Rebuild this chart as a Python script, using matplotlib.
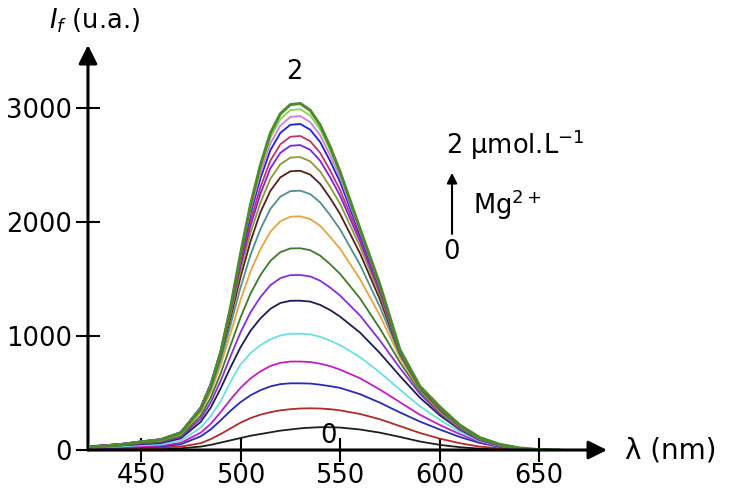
import matplotlib
matplotlib.use('Agg')
import matplotlib.pyplot as plt

wavelength = [425, 440, 450, 460, 470, 480, 485, 490, 495, 500, 505, 510, 515,
              520, 525, 530, 535, 540, 545, 550, 560, 570, 580, 590, 600, 610,
              620, 630, 640, 650, 660]

# fluorescence intensity (u.a.), from [Mg2+] = 0 up to 2 umol/L
i_00 = [5, 5, 5, 8, 15, 30, 45, 65, 85, 105, 125, 140, 155, 170, 180, 190, 196,
        200, 200, 197, 180, 152, 115, 75, 45, 25, 12, 6, 3, 0, 0]
i_01 = [10, 10, 15, 20, 30, 60, 95, 140, 190, 240, 280, 310, 332, 348, 358, 364,
        366, 364, 358, 348, 316, 270, 210, 150, 100, 60, 30, 15, 6, 0, 0]
i_02 = [15, 20, 25, 30, 50, 120, 180, 260, 345, 420, 480, 525, 558, 578, 585, 585,
        583, 573, 560, 545, 490, 415, 330, 250, 180, 115, 62, 28, 11, 2, 0]
i_03 = [19, 25, 32, 38, 63, 152, 229, 332, 444, 545, 628, 690, 737, 765, 776, 776,
        772, 757, 736, 705, 630, 530, 420, 310, 220, 140, 72, 32, 12, 2, 0]
i_04 = [24, 32, 41, 49, 81, 196, 295, 428, 600, 750, 850, 920, 970, 1005, 1020,
        1020, 1014, 993, 960, 920, 815, 680, 530, 385, 265, 160, 80, 36, 13, 2, 0]
i_05 = [29, 40, 51, 61, 102, 246, 371, 539, 726, 901, 1046, 1155, 1239, 1290, 1309,
        1310, 1302, 1273, 1228, 1170, 1030, 850, 650, 460, 305, 180, 88, 39, 14, 3, 0]
i_06 = [31, 43, 57, 69, 114, 275, 416, 606, 823, 1032, 1208, 1342, 1446, 1508, 1534,
        1535, 1523, 1485, 1425, 1355, 1180, 960, 720, 495, 320, 188, 92, 41, 15, 3, 0]
i_07 = [33, 47, 62, 75, 125, 301, 457, 670, 918, 1163, 1372, 1535, 1660, 1736, 1768,
        1770, 1753, 1705, 1630, 1545, 1330, 1065, 770, 515, 330, 195, 96, 43, 15, 3, 0]
i_08 = [34, 50, 68, 83, 137, 331, 504, 742, 1026, 1316, 1566, 1762, 1915, 2007, 2047,
        2050, 2026, 1966, 1870, 1765, 1500, 1180, 810, 530, 340, 200, 99, 44, 16, 3, 0]
i_09 = [33, 51, 71, 87, 144, 348, 531, 786, 1098, 1426, 1712, 1938, 2116, 2223, 2271,
        2275, 2245, 2172, 2060, 1935, 1625, 1255, 835, 538, 348, 204, 101, 45, 16, 3, 0]
i_10 = [33, 53, 74, 92, 151, 364, 557, 827, 1160, 1517, 1830, 2086, 2274, 2392, 2445,
        2450, 2416, 2334, 2210, 2070, 1725, 1320, 850, 543, 355, 207, 103, 46, 17, 3, 0]
i_11 = [33, 53, 75, 93, 154, 370, 568, 846, 1194, 1572, 1905, 2170, 2380, 2507, 2565,
        2570, 2532, 2443, 2308, 2160, 1785, 1360, 858, 547, 360, 210, 105, 47, 17, 3, 0]
i_12 = [31, 53, 75, 94, 155, 374, 575, 859, 1219, 1616, 1967, 2249, 2472, 2607, 2669,
        2675, 2633, 2537, 2392, 2230, 1830, 1385, 864, 550, 364, 212, 106, 48, 17, 3, 0]
i_13 = [30, 52, 74, 94, 155, 373, 575, 862, 1231, 1643, 2011, 2306, 2540, 2682, 2748,
        2755, 2709, 2607, 2452, 2280, 1860, 1400, 868, 553, 368, 214, 107, 48, 17, 3, 0]
i_14 = [28, 51, 74, 95, 156, 375, 579, 871, 1252, 1684, 2071, 2383, 2631, 2782, 2853,
        2860, 2810, 2701, 2535, 2350, 1890, 1418, 872, 555, 372, 216, 108, 49, 18, 3, 0]
i_15 = [26, 50, 73, 94, 154, 371, 575, 868, 1257, 1703, 2105, 2430, 2690, 2847, 2922,
        2930, 2876, 2761, 2585, 2390, 1912, 1430, 875, 557, 375, 217, 108, 49, 18, 3, 0]
i_16 = [24, 48, 72, 93, 152, 366, 569, 862, 1256, 1715, 2131, 2469, 2739, 2903, 2981,
        2990, 2933, 2811, 2629, 2420, 1928, 1440, 878, 558, 378, 218, 109, 50, 18, 3, 0]
i_17 = [20, 45, 70, 90, 150, 360, 560, 850, 1250, 1720, 2150, 2500, 2780, 2950, 3030,
        3040, 2980, 2850, 2660, 2440, 1940, 1450, 880, 560, 380, 220, 110, 50, 18, 3, 0]

spectra = [i_00, i_01, i_02, i_03, i_04, i_05, i_06, i_07, i_08,
           i_09, i_10, i_11, i_12, i_13, i_14, i_15, i_16, i_17]
colors = ['#1e1e1e', '#b22a2a', '#2a2ab8', '#c21fc2', '#6ae0e0', '#1c1c5c',
          '#8a2be2', '#3d7a2a', '#e8a43c', '#4f8f8f', '#5a1c1c', '#8c9a34',
          '#7a22e6', '#c4306c', '#1f1fe0', '#d27ae6', '#84d84a', '#4c8a2c']

x_ticks = [450, 500, 550, 600, 650]
y_ticks = [0, 1000, 2000, 3000]

fs = 18.5

fig = plt.figure(figsize=(7.38, 4.93), dpi=100)
ax = fig.add_axes([0.1192, 0.0872, 0.7033, 0.8215])

for vals, c in zip(spectra, colors):
    lw = 2.2 if c == '#4c8a2c' else 1.3
    ax.plot(wavelength, vals, color=c, lw=lw, zorder=2)

ax.set_xlim(423.4, 684)
ax.set_ylim(0, 3553)
for s in ax.spines.values():
    s.set_visible(False)

ax.set_xticks(x_ticks)
ax.set_yticks(y_ticks)
ax.tick_params(direction='inout', length=17, width=1.5, labelsize=fs, pad=3)
ax.tick_params(axis='x', pad=1)

# axes drawn as arrows
arrow = dict(arrowstyle='-|>', color='black', lw=2.2, mutation_scale=28,
             shrinkA=0, shrinkB=0)
ax.annotate('', xy=(1, 0), xytext=(0, 0), xycoords='axes fraction',
            arrowprops=arrow, annotation_clip=False, zorder=5)
ax.annotate('', xy=(0, 1), xytext=(0, 0), xycoords='axes fraction',
            arrowprops=arrow, annotation_clip=False, zorder=5)

fig.text(0.847, 0.087, 'λ (nm)', fontsize=20, va='center', ha='left')
fig.text(0.066, 0.958, r'$I_f$ (u.a.)', fontsize=fs, va='center', ha='left')

ax.text(527, 3200, '2', fontsize=fs, ha='center', va='bottom')
ax.text(544, 10, '0', fontsize=fs, ha='center', va='bottom')

# Mg2+ concentration arrow
fig.text(0.605, 0.706, '2 µmol.L$^{-1}$', fontsize=fs, ha='left', va='center')
fig.text(0.641, 0.585, 'Mg$^{2+}$', fontsize=fs, ha='left', va='center')
fig.text(0.612, 0.488, '0', fontsize=fs, ha='center', va='center')
fig.add_artist(matplotlib.patches.FancyArrowPatch(
    (0.6125, 0.52), (0.6125, 0.655), transform=fig.transFigure,
    arrowstyle='-|>', mutation_scale=15, lw=1.5, color='black'))

plt.savefig('out.png', dpi=100)
